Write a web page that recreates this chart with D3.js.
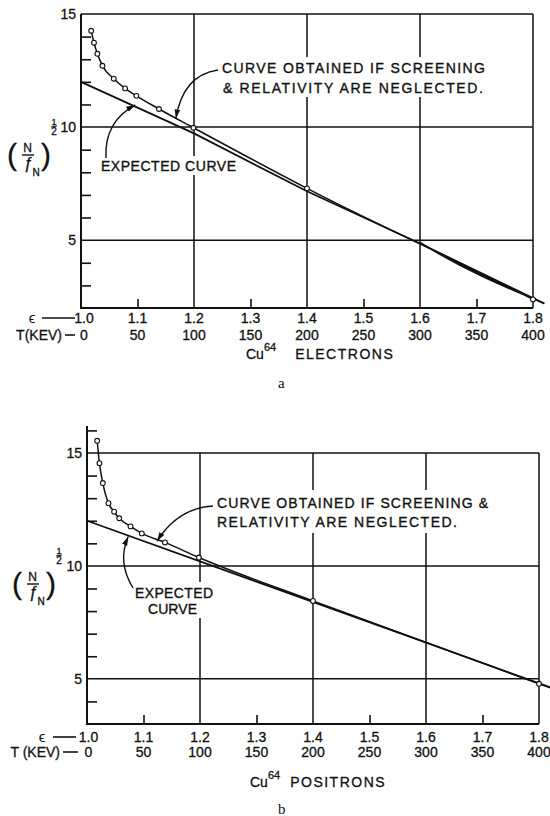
<!DOCTYPE html>
<html>
<head>
<meta charset="utf-8">
<script src="https://cdn.jsdelivr.net/npm/d3@7"></script>
<style>
body { margin: 0; background: #fff; }
svg { display: block; }
text { font-family: "Liberation Sans", Arial, sans-serif; fill: #111; }
</style>
</head>
<body>
<svg width="550" height="816"></svg>
<script>
// x axis (epsilon / kinetic energy)
var epsTicks = [1.0, 1.1, 1.2, 1.3, 1.4, 1.5, 1.6, 1.7, 1.8];
var epsLabels = ["1.0", "1.1", "1.2", "1.3", "1.4", "1.5", "1.6", "1.7", "1.8"];
var kevLabels = ["0", "50", "100", "150", "200", "250", "300", "350", "400"];
var epsGrid = [1.2, 1.4, 1.6, 1.8];
var epsMinor = [1.1, 1.3, 1.5, 1.7];

// panel a : Cu64 electrons
var elecEps = [1.018, 1.023, 1.029, 1.038, 1.058, 1.078, 1.098, 1.138, 1.199, 1.4, 1.8];
var elecVal = [14.26, 13.73, 13.24, 12.71, 12.14, 11.71, 11.38, 10.80, 9.97, 7.29, 2.38];
var elecTailEps = [1.6, 1.82];
var elecTailVal = [4.9, 2.2];
var elecExpEps = [1.0, 1.2, 1.4, 1.6, 1.82];
var elecExpVal = [12.0, 9.72, 7.16, 4.85, 2.2];
var elecYTicks = [15, 10, 5];
var elecYMinor = [3, 4, 6, 7, 8, 9, 11, 12, 13, 14];

// panel b : Cu64 positrons
var posEps = [1.018, 1.022, 1.028, 1.038, 1.048, 1.057, 1.077, 1.097, 1.138, 1.198, 1.4, 1.8];
var posVal = [15.54, 14.55, 13.67, 12.78, 12.40, 12.11, 11.75, 11.44, 11.04, 10.37, 8.45, 4.78];
var posTailEps = [1.82];
var posTailVal = [4.6];
var posExpEps = [1.0, 1.82];
var posExpVal = [12.0, 4.62];
var posYTicks = [15, 10, 5];
var posYMinor = [4, 6, 7, 8, 9, 11, 12, 13, 14, 16];

var svg = d3.select("svg");

var defs = svg.append("defs");
defs.append("marker")
    .attr("id", "head")
    .attr("markerUnits", "userSpaceOnUse")
    .attr("markerWidth", 10).attr("markerHeight", 8)
    .attr("refX", 9).attr("refY", 3)
    .attr("orient", "auto")
  .append("path")
    .attr("d", "M0,0.2 L9,3 L0,5.8 Z")
    .attr("fill", "#111");

function zip(a, b) { return a.map(function (d, i) { return [d, b[i]]; }); }

function drawPanel(p) {
    var x = d3.scaleLinear().domain([1.0, 1.8]).range(p.xr);
    var y = d3.scaleLinear().domain(p.yd).range(p.yr);
    var g = svg.append("g");
    var ink = "#111";

    // grid
    g.selectAll(".vg").data(epsGrid).enter().append("line")
        .attr("x1", function (d) { return x(d); }).attr("x2", function (d) { return x(d); })
        .attr("y1", y(p.yd[0])).attr("y2", y(15))
        .attr("stroke", ink).attr("stroke-width", 1.5);
    g.selectAll(".hg").data([15, 10, 5]).enter().append("line")
        .attr("x1", x(1.0)).attr("x2", x(1.8))
        .attr("y1", function (d) { return y(d); }).attr("y2", function (d) { return y(d); })
        .attr("stroke", ink).attr("stroke-width", 1.5);

    // axes with inward minor ticks
    var xa = g.append("g").attr("transform", "translate(0," + y(p.yd[0]) + ")")
        .call(d3.axisBottom(x).tickValues(epsMinor).tickSize(-9).tickFormat(""));
    xa.select(".domain").remove();
    xa.selectAll("line").attr("stroke", ink).attr("stroke-width", 1.6);
    var ya = g.append("g").attr("transform", "translate(" + x(1.0) + ",0)")
        .call(d3.axisLeft(y).tickValues(p.yMinor).tickSize(-10).tickFormat(""));
    ya.select(".domain").remove();
    ya.selectAll("line").attr("stroke", ink).attr("stroke-width", 1.6);

    g.append("line").attr("x1", x(1.0)).attr("x2", x(1.0))
        .attr("y1", y(p.yd[0]) + 1).attr("y2", y(p.yTop))
        .attr("stroke", ink).attr("stroke-width", 2);
    g.append("line").attr("x1", x(1.0)).attr("x2", x(1.8))
        .attr("y1", y(p.yd[0])).attr("y2", y(p.yd[0]))
        .attr("stroke", ink).attr("stroke-width", 2);

    // y tick labels
    g.selectAll(".yl").data(p.yTicks).enter().append("text")
        .attr("x", x(1.0) - 5).attr("y", function (d) { return y(d) + 5; })
        .attr("text-anchor", "end").attr("font-size", 14)
        .attr("stroke", ink).attr("stroke-width", 0.3)
        .text(function (d) { return d; });

    // x tick labels, two rows
    var by = y(p.yd[0]);
    g.selectAll(".xl1").data(epsTicks).enter().append("text")
        .attr("x", function (d, i) { return x(d) + (i === 0 ? p.firstShift : 0); })
        .attr("y", by + p.row1)
        .attr("text-anchor", "middle").attr("font-size", 14)
        .attr("stroke", ink).attr("stroke-width", 0.3)
        .text(function (d, i) { return epsLabels[i]; });
    g.selectAll(".xl2").data(epsTicks).enter().append("text")
        .attr("x", function (d, i) { return x(d) + (i === 0 ? p.firstShift : 0); })
        .attr("y", by + p.row2)
        .attr("text-anchor", "middle").attr("font-size", 14)
        .attr("stroke", ink).attr("stroke-width", 0.3)
        .text(function (d, i) { return kevLabels[i]; });
    var x0 = x(1.0);
    g.append("text").attr("x", x0 - p.epsOff).attr("y", by + p.row1)
        .attr("text-anchor", "middle").attr("font-size", 15).text("\u03f5");
    g.append("line").attr("x1", x0 - p.dash1[0]).attr("x2", x0 - p.dash1[1])
        .attr("y1", by + p.row1 - 5).attr("y2", by + p.row1 - 5)
        .attr("stroke", ink).attr("stroke-width", 1.6);
    g.append("text").attr("x", x0 - p.tEnd).attr("y", by + p.row2)
        .attr("text-anchor", "end").attr("font-size", 14)
        .attr("stroke", ink).attr("stroke-width", 0.3).text(p.tLabel);
    g.append("line").attr("x1", x0 - p.dash2[0]).attr("x2", x0 - p.dash2[1])
        .attr("y1", by + p.row2 - 5).attr("y2", by + p.row2 - 5)
        .attr("stroke", ink).attr("stroke-width", 1.6);

    // axis title
    var t = g.append("text").attr("x", p.title[0]).attr("y", p.title[1]).attr("font-size", 14)
        .attr("stroke", ink).attr("stroke-width", 0.3);
    t.append("tspan").text("Cu");
    t.append("tspan").attr("font-size", 11).attr("dy", -8).text("64");
    t.append("tspan").attr("dy", 8).attr("dx", p.titleGap).attr("letter-spacing", 1.5).text(p.titleText);

    // white boxes behind the notes break the grid lines
    p.boxes.forEach(function (b) {
        g.append("rect").attr("x", b[0]).attr("y", b[1]).attr("width", b[2]).attr("height", b[3]).attr("fill", "#fff");
    });
    p.notes.forEach(function (n) {
        g.append("text").attr("x", n[0]).attr("y", n[1]).attr("font-size", 14)
            .attr("textLength", n[3]).attr("lengthAdjust", "spacing")
            .attr("stroke", "#111").attr("stroke-width", 0.35)
            .text(n[2]);
    });

    // curves
    var line = d3.line().x(function (d) { return x(d[0]); }).y(function (d) { return y(d[1]); });
    g.append("path").datum(zip(p.expEps, p.expVal))
        .attr("d", line).attr("fill", "none").attr("stroke", ink).attr("stroke-width", 1.8);
    g.append("path").datum(zip(p.eps.concat(p.tailEps), p.val.concat(p.tailVal)))
        .attr("d", line.curve(d3.curveMonotoneX)).attr("fill", "none").attr("stroke", ink).attr("stroke-width", 1.5);
    g.selectAll(".pt").data(zip(p.eps, p.val)).enter().append("circle")
        .attr("cx", function (d) { return x(d[0]); }).attr("cy", function (d) { return y(d[1]); })
        .attr("r", 2.4).attr("fill", "#fff").attr("stroke", ink).attr("stroke-width", 1.1);

    // arrows pointing at the curves
    p.arrows.forEach(function (a) {
        var tx = x(a.tip[0]), ty = y(a.tip[1]);
        g.append("path")
            .attr("d", "M" + a.from[0] + "," + a.from[1] + " Q" + a.ctrl[0] + "," + a.ctrl[1] + " " + tx + "," + ty)
            .attr("fill", "none").attr("stroke", ink).attr("stroke-width", 1.4)
            .attr("marker-end", "url(#head)");
    });

    // y axis label (N / f_N)^(1/2)
    var lx = p.ylab[0], ly = p.ylab[1];
    var yl = g.append("g").attr("transform", "translate(" + lx + "," + ly + ")")
        .attr("stroke", ink).attr("stroke-width", 0.3);
    yl.append("text").attr("x", -16).attr("y", 10).attr("text-anchor", "middle").attr("font-size", 30).text("(");
    yl.append("text").attr("x", 18).attr("y", 10).attr("text-anchor", "middle").attr("font-size", 30).text(")");
    yl.append("text").attr("x", -0.5).attr("y", -3).attr("text-anchor", "middle").attr("font-size", 12).text("N");
    yl.append("line").attr("x1", -6).attr("x2", 6).attr("y1", 0).attr("y2", 0).attr("stroke", ink).attr("stroke-width", 1.4);
    yl.append("text").attr("x", 0).attr("y", 14).attr("text-anchor", "middle").attr("font-size", 16)
        .attr("font-style", "italic").text("\u0192");
    yl.append("text").attr("x", 8).attr("y", 21).attr("text-anchor", "middle").attr("font-size", 10).text("N");
    yl.append("text").attr("x", 26).attr("y", -30).attr("text-anchor", "middle").attr("font-size", 9).text("1");
    yl.append("line").attr("x1", 23).attr("x2", 29).attr("y1", -28).attr("y2", -29).attr("stroke", ink).attr("stroke-width", 1);
    yl.append("text").attr("x", 26).attr("y", -20).attr("text-anchor", "middle").attr("font-size", 10).text("2");

    // panel letter
    svg.append("text").attr("x", p.letter[0]).attr("y", p.letter[1])
        .attr("font-size", 15)
        .style("font-family", "'Liberation Serif', serif").text(p.letter[2]);
}

drawPanel({
    xr: [81, 533], yd: [2, 15], yr: [308, 14], yTop: 15,
    yTicks: elecYTicks, yMinor: elecYMinor,
    eps: elecEps, val: elecVal, tailEps: elecTailEps, tailVal: elecTailVal,
    expEps: elecExpEps, expVal: elecExpVal,
    row1: 15, row2: 32, firstShift: 3,
    epsOff: 49, dash1: [39, 6], tEnd: 19, dash2: [16, 6], tLabel: "T(KEV)",
    title: [246, 359], titleGap: 19, titleText: "ELECTRONS",
    boxes: [[216, 57, 276, 40], [96, 156, 146, 19]],
    notes: [[222, 73, "CURVE OBTAINED IF SCREENING", 263], [223, 93, "& RELATIVITY ARE NEGLECTED.", 260],
            [101, 171, "EXPECTED CURVE", 135]],
    arrows: [{ from: [218, 70], ctrl: [183, 75], tip: [1.168, 10.38] },
             { from: [106, 158], ctrl: [104, 122], tip: [1.096, 10.98] }],
    ylab: [28, 155],
    letter: [278, 388, "a"]
});

drawPanel({
    xr: [87, 539], yd: [3, 15], yr: [724, 453], yTop: 16.2,
    yTicks: posYTicks, yMinor: posYMinor,
    eps: posEps, val: posVal, tailEps: posTailEps, tailVal: posTailVal,
    expEps: posExpEps, expVal: posExpVal,
    row1: 18, row2: 33, firstShift: 1.5,
    epsOff: 45, dash1: [34, 11], tEnd: 27, dash2: [24, 9], tLabel: "T (KEV)",
    title: [250, 787], titleGap: 10, titleText: "POSITRONS",
    boxes: [[212, 490, 282, 43], [130, 582, 88, 36]],
    notes: [[217, 508, "CURVE OBTAINED IF SCREENING &", 271], [217, 527, "RELATIVITY ARE NEGLECTED.", 240],
            [135, 598, "EXPECTED", 78], [148, 614, "CURVE", 49]],
    arrows: [{ from: [213, 506], ctrl: [178, 508], tip: [1.124, 11.1] },
             { from: [133, 588], ctrl: [117, 562], tip: [1.073, 11.3] }],
    ylab: [33, 584],
    letter: [278, 814, "b"]
});
</script>
</body>
</html>
